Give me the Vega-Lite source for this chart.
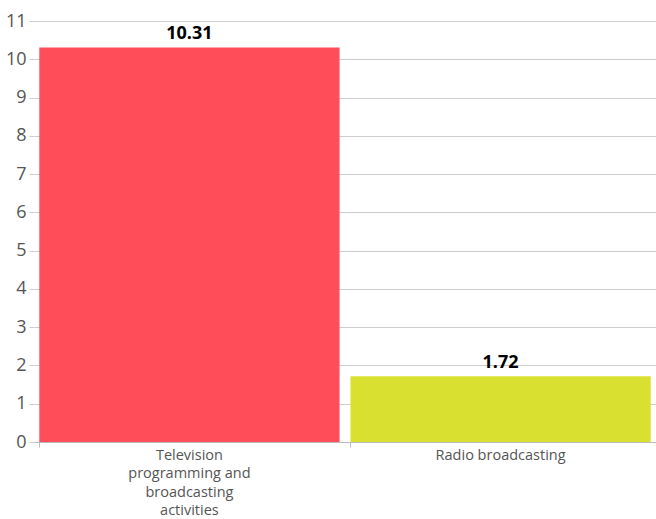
{
  "$schema": "https://vega.github.io/schema/vega-lite/v6.json",
  "autosize": {"type": "none"},
  "padding": {"left": 34, "top": 21, "right": 0, "bottom": 77},
  "width": 622,
  "height": 421,
  "background": "white",
  "config": {"view": {"stroke": null}, "font": "Open Sans"},
  "data": {"values": [
    {"category": "Television programming and broadcasting activities", "value": 10.31},
    {"category": "Radio broadcasting", "value": 1.72}
  ]},
  "encoding": {
    "x": {"field": "category", "type": "nominal", "sort": null,
      "scale": {"paddingInner": 0.035, "paddingOuter": 0.017},
      "axis": {"title": null, "labelAngle": 0, "bandPosition": 0, "domainColor": "#bbbbbb", "tickColor": "#bbbbbb", "tickSize": 5,
        "labelColor": "#555555", "labelFontSize": 14.5, "labelLineHeight": 18.5, "labelPadding": 1,
        "labelExpr": "datum.value == 'Television programming and broadcasting activities' ? ['Television','programming and','broadcasting','activities'] : datum.value"}},
    "y": {"field": "value", "type": "quantitative",
      "scale": {"domain": [0, 11], "nice": false},
      "axis": {"title": null, "values": [0,1,2,3,4,5,6,7,8,9,10,11], "domain": false, "gridColor": "#cccccc", "tickColor": "#cccccc", "tickSize": 5,
        "labelColor": "#555555", "labelFontSize": 18, "labelPadding": 3}}
  },
  "layer": [
    {"mark": {"type": "bar"},
      "encoding": {"color": {"field": "category", "type": "nominal", "legend": null,
        "scale": {"domain": ["Television programming and broadcasting activities", "Radio broadcasting"], "range": ["#FF4D5A", "#D9E030"]}}}},
    {"mark": {"type": "text", "dy": -13, "fontSize": 18, "fontWeight": "bold", "color": "#000000"},
      "encoding": {"text": {"field": "value", "type": "quantitative", "format": ".2f"}}}
  ]
}
